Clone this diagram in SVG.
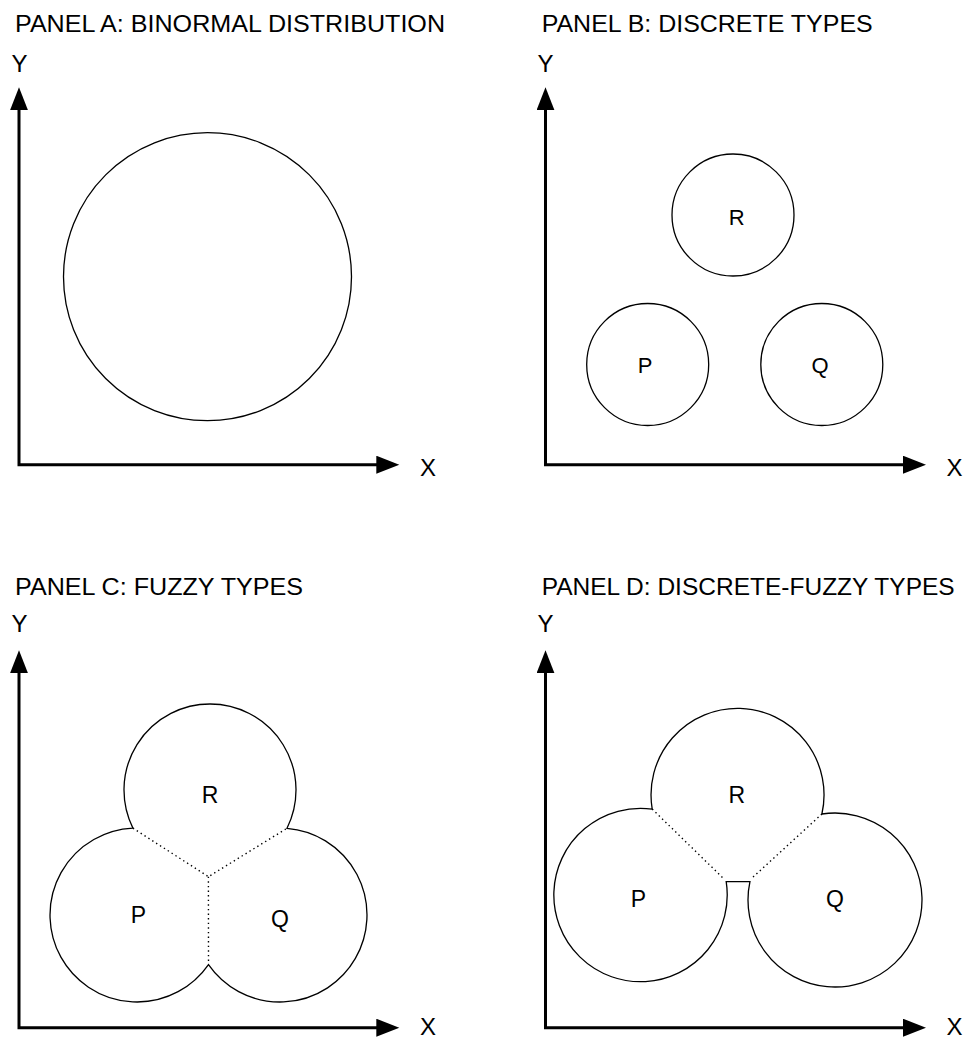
<svg xmlns="http://www.w3.org/2000/svg" width="966" height="1038" viewBox="0 0 966 1038">
<defs>
<style>
text{font-family:"Liberation Sans",Arial,sans-serif;fill:#000}
.title{font-size:24px}
.ax{font-size:24px;text-anchor:middle}
.lbB{font-size:22px;text-anchor:middle}
.lb{font-size:23px;text-anchor:middle}
.axis{fill:none;stroke:#000;stroke-width:3;marker-start:url(#arr);marker-end:url(#arr)}
.shape{fill:#fff;stroke:#000;stroke-width:1.3}
.dot{fill:none;stroke:#000;stroke-width:1.4;stroke-dasharray:1.4 3.2}
</style>
<marker id="arr" markerUnits="userSpaceOnUse" markerWidth="24" markerHeight="20" refX="7.7" refY="9" orient="auto-start-reverse">
<path d="M0,0 L23,9 L0,18 Z" fill="#000"/>
</marker>
</defs>
<rect width="966" height="1038" fill="#fff"/>

<g id="panel-a">
<text class="title" x="15" y="31.7" textLength="430" lengthAdjust="spacingAndGlyphs">PANEL A: BINORMAL DISTRIBUTION</text>
<text class="ax" x="19.5" y="71.7">Y</text>
<text class="ax" x="428" y="476">X</text>
<g id="a-circle"><circle class="shape" cx="207.5" cy="276.7" r="144"/></g>
</g>

<g id="panel-b">
<text class="title" x="541.7" y="31.7" textLength="331" lengthAdjust="spacingAndGlyphs">PANEL B: DISCRETE TYPES</text>
<text class="ax" x="545.5" y="71.7">Y</text>
<text class="ax" x="954.5" y="476">X</text>
<g id="b-r"><circle class="shape" cx="733" cy="215" r="61"/><text class="lbB" x="736.7" y="225">R</text></g>
<g id="b-p"><circle class="shape" cx="647.7" cy="364.5" r="61"/><text class="lbB" x="645" y="373.3">P</text></g>
<g id="b-q"><circle class="shape" cx="821.8" cy="364.5" r="61"/><text class="lbB" x="820" y="373.3">Q</text></g>
</g>

<g id="panel-c">
<text class="title" x="15" y="595" textLength="288" lengthAdjust="spacingAndGlyphs">PANEL C: FUZZY TYPES</text>
<text class="ax" x="19.5" y="631.7">Y</text>
<text class="ax" x="428" y="1035">X</text>
<g id="c-shape">
<path class="shape" d="M132.9,828.1 A86,86 0 1 1 287,828.3 A87,87 0 1 1 208.5,964.6 A87,87 0 1 1 132.9,828.1 Z"/>
<path class="dot" d="M132.9,828.1 L208.4,876.7 L287,828.3 M208.4,876.7 L208.5,962"/>
</g>
<g id="c-r"><text class="lb" x="210" y="803.3">R</text></g>
<g id="c-p"><text class="lb" x="138.3" y="923.3">P</text></g>
<g id="c-q"><text class="lb" x="280" y="926.5">Q</text></g>
</g>

<g id="panel-d">
<text class="title" x="541.7" y="595" textLength="413" lengthAdjust="spacingAndGlyphs">PANEL D: DISCRETE-FUZZY TYPES</text>
<text class="ax" x="545.5" y="631.7">Y</text>
<text class="ax" x="954.5" y="1035">X</text>
<g id="d-shape">
<path class="shape" d="M652.2,809.1 A86.5,86.5 0 1 1 821.9,814 A87,87 0 1 1 749.95,881.7 L726.2,881.7 A86.7,86.7 0 1 1 652.2,809.1 Z"/>
<path class="dot" d="M652.2,809.1 L723.3,878.3 M821.9,814 L751.7,878.3"/>
</g>
<g id="d-r"><text class="lb" x="736.7" y="803.3">R</text></g>
<g id="d-p"><text class="lb" x="638.3" y="906.7">P</text></g>
<g id="d-q"><text class="lb" x="835" y="906.7">Q</text></g>
</g>

<g id="connectors">
<path class="axis" d="M19,102.6 V464.7 H384"/>
<path class="axis" d="M545.5,102.6 V464.7 H910.7"/>
<path class="axis" d="M19,665.6 V1027.7 H384"/>
<path class="axis" d="M545.5,665.6 V1027.7 H910.7"/>
</g>
</svg>
